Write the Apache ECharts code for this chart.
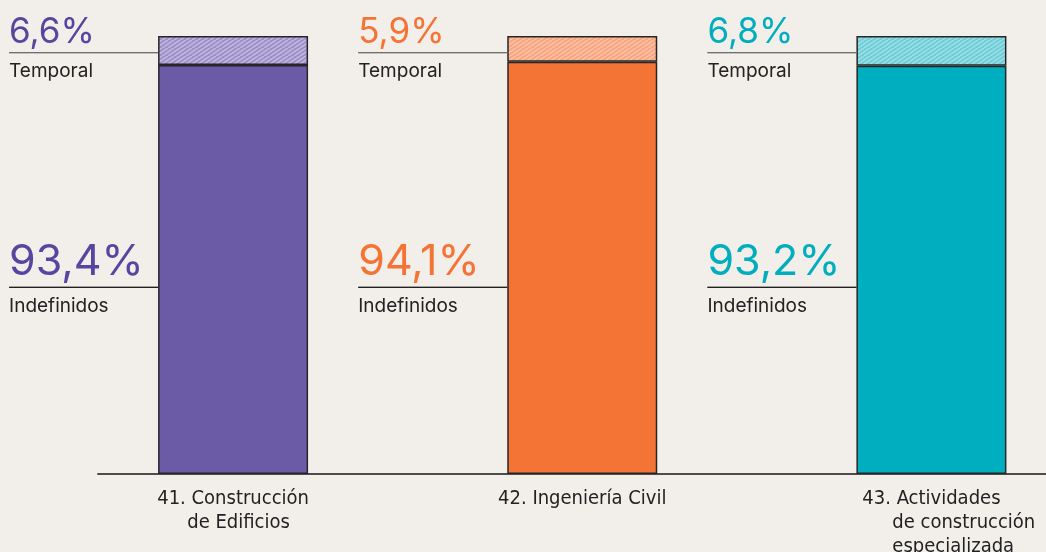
<!DOCTYPE html>
<html>
<head>
<meta charset="utf-8">
<script src="https://cdn.jsdelivr.net/npm/echarts@6/dist/echarts.min.js"></script>
<style>
  html, body { margin: 0; padding: 0; background: #F2EEEA; overflow: hidden; }
  #wrap { width: 1046px; height: 552px; overflow: hidden; position: relative; }
  /* el grafico es mas ancho que la ventana: la tercera banda sobresale por la derecha */
  #chart { width: 1106px; height: 552px; }
</style>
</head>
<body>
<div id="wrap"><div id="chart"></div></div>
<script>
// datos
var categories = ['41. Construcción\nde Edificios', '42. Ingeniería Civil', '43. Actividades\nde construcción\nespecializada'];
var indefinidos = [93.4, 94.1, 93.2];
var temporal = [6.6, 5.9, 6.8];
var seriesNames = ['Indefinidos', 'Temporal'];

// colores
var barColors = ['#6B5AA6', '#F47435', '#00AFBF'];
var textColors = ['#5646A0', '#F47435', '#00AEBE'];
var hatchBase = ['#9C8EC8', '#F8A47F', '#6DCDD8'];
var hatchLine = ['#C2B8DF', '#FBC2A7', '#9EDEE6'];

var catFont = '"DejaVu Sans Condensed", "DejaVu Sans", sans-serif';
var numFont = 'Inter, "Noto Sans", sans-serif';

function fmt(v) {
    return v.toFixed(1).replace('.', ',') + '%';
}

// trama rayada para el tramo temporal
function hatch(base, stripe) {
    var c = document.createElement('canvas');
    c.width = 12; c.height = 8;
    var g = c.getContext('2d');
    g.fillStyle = base;
    g.fillRect(0, 0, 12, 8);
    g.strokeStyle = stripe;
    g.lineWidth = 1.5;
    for (var k = -2; k <= 2; k++) {
        g.beginPath();
        g.moveTo(k * 6, 8);
        g.lineTo(k * 6 + 12, 0);
        g.stroke();
    }
    return c;
}

// etiquetas del eje: primera linea centrada, el resto con sangria
var catSize = 20;
var ctx = document.createElement('canvas').getContext('2d');
ctx.font = catSize + 'px ' + catFont;
var indent = 30;
var axisRich = {};
categories.forEach(function (c, i) {
    var lines = c.split('\n');
    var w1 = ctx.measureText(lines[0]).width;
    var rest = 0;
    lines.slice(1).forEach(function (l) {
        rest = Math.max(rest, indent + ctx.measureText(l).width);
    });
    var p = Math.max(0, rest - w1);
    var base = { fontFamily: catFont, fontSize: catSize, color: '#222', lineHeight: 24, align: 'left' };
    axisRich['h' + i] = Object.assign({ padding: [0, p, 0, p] }, base);
    axisRich['t' + i] = Object.assign({ padding: [0, 0, 0, p + indent] }, base);
});

var valRichT = {}, valRichI = {};
textColors.forEach(function (col, i) {
    valRichT['v' + i] = { color: col, fontFamily: numFont, fontSize: 35, lineHeight: 40 };
    valRichI['v' + i] = { color: col, fontFamily: numFont, fontSize: 43, lineHeight: 51 };
});
valRichT.hr = { width: 149, height: 0, lineHeight: 0, borderColor: '#6a6a6a', borderWidth: 1 };
valRichT.n = { color: '#222', fontFamily: numFont, fontSize: 19, lineHeight: 38 };
valRichI.hr = { width: 149, height: 0, lineHeight: 0, borderColor: '#1a1a1a', borderWidth: 1 };
valRichI.n = { color: '#222', fontFamily: numFont, fontSize: 19, lineHeight: 38 };

var chart = echarts.init(document.getElementById('chart'));
var option = {
    backgroundColor: '#F2EEEA',
    animation: false,
    grid: [
        { left: 58.5, right: 0, top: 36, bottom: 78, outerBoundsMode: 'none', containLabel: false },
        { left: 98, right: 60, top: 36, bottom: 78, outerBoundsMode: 'none', containLabel: false }
    ],
    xAxis: [
        {
            type: 'category',
            gridIndex: 0,
            data: categories,
            axisLine: { show: false },
            axisTick: { show: false },
            axisLabel: {
                interval: 0,
                margin: 13,
                align: 'center',
                formatter: function (val, idx) {
                    var lines = val.split('\n');
                    return lines.map(function (l, k) {
                        return '{' + (k === 0 ? 'h' : 't') + idx + '|' + l + '}';
                    }).join('\n');
                },
                rich: axisRich
            }
        },
        {
            type: 'value',
            gridIndex: 1,
            axisLine: { show: true, lineStyle: { color: '#4d4d4d', width: 2 } },
            axisTick: { show: false },
            axisLabel: { show: false },
            splitLine: { show: false }
        }
    ],
    yAxis: [
        { type: 'value', gridIndex: 0, min: 0, max: 100, show: false },
        { type: 'value', gridIndex: 1, show: false }
    ],
    series: [
        {
            name: seriesNames[0],
            type: 'bar',
            stack: 'total',
            barWidth: 150,
            data: indefinidos.map(function (v, i) {
                return { value: v, itemStyle: { color: barColors[i] } };
            }),
            itemStyle: { borderColor: '#262626', borderWidth: 1.5 },
            label: {
                show: true,
                position: [-149, '100%'],
                offset: [0, -237.7],
                align: 'left',
                verticalAlign: 'top',
                formatter: function (p) {
                    return '{v' + p.dataIndex + '|' + fmt(p.value) + '}\n{hr|}\n{n|' + p.seriesName + '}';
                },
                rich: valRichI
            }
        },
        {
            name: seriesNames[1],
            type: 'bar',
            stack: 'total',
            barWidth: 150,
            data: temporal.map(function (v, i) {
                return { value: v, itemStyle: { color: { image: hatch(hatchBase[i], hatchLine[i]), repeat: 'repeat' } } };
            }),
            itemStyle: { borderColor: '#262626', borderWidth: 1.5 },
            label: {
                show: true,
                position: [-149, -23.3],
                align: 'left',
                verticalAlign: 'top',
                formatter: function (p) {
                    return '{v' + p.dataIndex + '|' + fmt(p.value) + '}\n{hr|}\n{n|' + p.seriesName + '}';
                },
                rich: valRichT
            }
        }
    ]
};
chart.setOption(option);
</script>
</body>
</html>
